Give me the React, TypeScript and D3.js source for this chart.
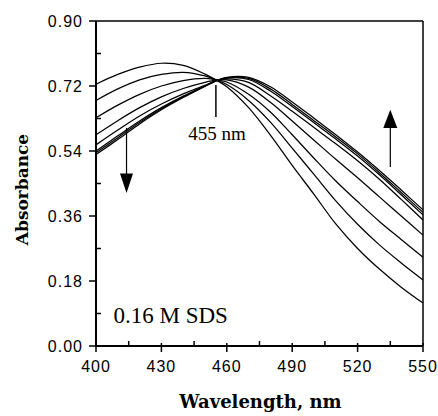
import React from "react";
import * as d3 from "d3";

const wavelengths = [400, 410, 420, 430, 440, 450, 455, 460, 470, 480, 490, 500, 510, 520, 530, 540, 550];

const spectrum1 = [0.725, 0.752, 0.772, 0.783, 0.777, 0.753, 0.737, 0.718, 0.66, 0.584, 0.5, 0.42, 0.338, 0.27, 0.213, 0.163, 0.119];
const spectrum2 = [0.68, 0.712, 0.737, 0.752, 0.758, 0.748, 0.737, 0.724, 0.68, 0.62, 0.548, 0.475, 0.402, 0.337, 0.28, 0.23, 0.183];
const spectrum3 = [0.632, 0.667, 0.697, 0.72, 0.735, 0.741, 0.737, 0.731, 0.697, 0.648, 0.585, 0.52, 0.457, 0.4, 0.345, 0.295, 0.246];
const spectrum4 = [0.585, 0.624, 0.66, 0.69, 0.713, 0.73, 0.736, 0.737, 0.717, 0.675, 0.623, 0.57, 0.517, 0.466, 0.413, 0.36, 0.307];
const spectrum5 = [0.557, 0.598, 0.637, 0.67, 0.698, 0.722, 0.735, 0.74, 0.73, 0.693, 0.65, 0.605, 0.56, 0.513, 0.462, 0.406, 0.349];
const spectrum6 = [0.54, 0.582, 0.623, 0.66, 0.692, 0.72, 0.734, 0.742, 0.738, 0.706, 0.663, 0.618, 0.573, 0.526, 0.474, 0.419, 0.363];
const spectrum7 = [0.535, 0.577, 0.619, 0.657, 0.69, 0.72, 0.734, 0.743, 0.741, 0.712, 0.669, 0.624, 0.579, 0.532, 0.48, 0.425, 0.37];
const spectrum8 = [0.53, 0.572, 0.615, 0.654, 0.688, 0.719, 0.734, 0.744, 0.744, 0.718, 0.676, 0.631, 0.585, 0.537, 0.486, 0.432, 0.377];

const spectra = [spectrum1, spectrum2, spectrum3, spectrum4, spectrum5, spectrum6, spectrum7, spectrum8];

const xTicks = [400, 430, 460, 490, 520, 550];
const xMinorTicks = [415, 445, 475, 505, 535];
const yTicks = [0, 0.18, 0.36, 0.54, 0.72, 0.9];
const yMinorTicks = [0.09, 0.27, 0.45, 0.63, 0.81];

const isosbestic = 455;
const isoLabel = "455 nm";
const conditionLabel = "0.16 M SDS";

const W = 438;
const H = 416;
const margin = { left: 96, right: 15, top: 21, bottom: 70 };

export default function App() {
  const x = d3.scaleLinear().domain([400, 550]).range([margin.left, W - margin.right]);
  const y = d3.scaleLinear().domain([0, 0.9]).range([H - margin.bottom, margin.top]);
  const line = d3
    .line<number>()
    .x((_, i) => x(wavelengths[i]))
    .y((d) => y(d))
    .curve(d3.curveCatmullRom.alpha(0.5));

  const x0 = x(400), x1 = x(550), y0 = y(0), y1 = y(0.9);
  const tickFont = "'Liberation Sans', Arial, sans-serif";
  const serif = "'Liberation Serif', 'Times New Roman', serif";
  const boldSerif = "'DejaVu Serif', serif";

  const downX = x(414);
  const upX = x(535);

  return (
    <svg width={W} height={H} style={{ position: "absolute", left: 0, top: 0, background: "#fff" }}>
      <rect x={0} y={0} width={W} height={H} fill="#fff" />
      {spectra.map((s, i) => (
        <path key={i} d={line(s) || ""} fill="none" stroke="#000" strokeWidth={1.25} />
      ))}
      {/* frame */}
      <line x1={x0} x2={x1} y1={y1} y2={y1} stroke="#000" strokeWidth={1.5} />
      <line x1={x1} x2={x1} y1={y1} y2={y0} stroke="#000" strokeWidth={1.5} />
      <line x1={x0} x2={x0} y1={y1} y2={y0 + 1} stroke="#000" strokeWidth={2} />
      <line x1={x0 - 1} x2={x1} y1={y0} y2={y0} stroke="#000" strokeWidth={2} />
      {/* y ticks */}
      {yTicks.map((t) => (
        <g key={"y" + t}>
          <line x1={x0 - 7} x2={x0} y1={y(t)} y2={y(t)} stroke="#000" strokeWidth={1.5} />
          <text x={x0 - 13} y={y(t)} dy="0.36em" textAnchor="end" fontFamily={tickFont} fontSize={16} letterSpacing={1}>
            {t.toFixed(2)}
          </text>
        </g>
      ))}
      {yMinorTicks.map((t) => (
        <line key={"ym" + t} x1={x0} x2={x0 + 5} y1={y(t)} y2={y(t)} stroke="#000" strokeWidth={1.5} />
      ))}
      {/* x ticks */}
      {xTicks.map((t) => (
        <g key={"x" + t}>
          <line x1={x(t)} x2={x(t)} y1={y0 - 3} y2={y0 + 6} stroke="#000" strokeWidth={1.5} />
          <text x={x(t)} y={y0 + 26} textAnchor="middle" fontFamily={tickFont} fontSize={16} letterSpacing={1}>
            {t}
          </text>
        </g>
      ))}
      {xMinorTicks.map((t) => (
        <line key={"xm" + t} x1={x(t)} x2={x(t)} y1={y0} y2={y0 - 5} stroke="#000" strokeWidth={1.5} />
      ))}
      {/* axis titles */}
      <text x={(x0 + x1) / 2 + 1} y={H - 8} textAnchor="middle" fontFamily={boldSerif} fontWeight="bold" fontSize={18}>
        Wavelength, nm
      </text>
      <text
        transform={`translate(28,${(y0 + y1) / 2 + 6}) rotate(-90)`}
        textAnchor="middle"
        fontFamily={boldSerif}
        fontWeight="bold"
        fontSize={17}
      >
        Absorbance
      </text>
      {/* isosbestic annotation */}
      <line x1={x(isosbestic)} x2={x(isosbestic)} y1={y(0.723)} y2={y(0.634)} stroke="#000" strokeWidth={1.5} />
      <text x={x(isosbestic) + 1} y={y(0.57)} textAnchor="middle" fontFamily={serif} fontSize={19}>
        {isoLabel}
      </text>
      {/* arrows */}
      <line x1={downX} x2={downX} y1={y(0.604)} y2={y(0.475)} stroke="#000" strokeWidth={1.2} />
      <path
        d={`M${downX - 6.5},${y(0.478)} L${downX + 6.5},${y(0.478)} L${downX},${y(0.424)} Z`}
        fill="#000"
      />
      <line x1={upX} x2={upX} y1={y(0.496)} y2={y(0.61)} stroke="#000" strokeWidth={1.2} />
      <path
        d={`M${upX - 7},${y(0.604)} L${upX + 7},${y(0.604)} L${upX},${y(0.654)} Z`}
        fill="#000"
      />
      <text x={x(408)} y={y(0.065)} fontFamily={serif} fontSize={23}>
        {conditionLabel}
      </text>
    </svg>
  );
}
